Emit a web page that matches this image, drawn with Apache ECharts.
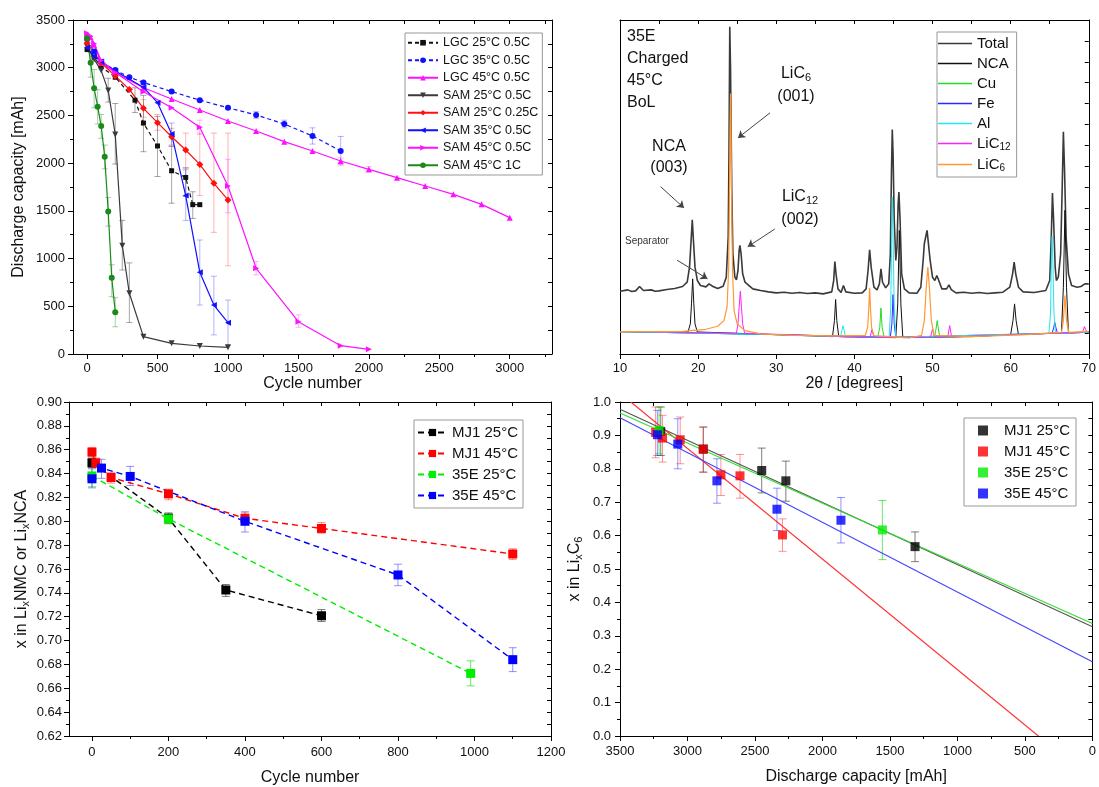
<!DOCTYPE html>
<html><head><meta charset="utf-8">
<script src="https://cdn.jsdelivr.net/npm/echarts@6/dist/echarts.min.js"></script>
<style>html,body{margin:0;padding:0;background:#fff}#c{width:1099px;height:787px}</style>
</head><body><div id="c"></div>
<script>
// ---------- Panel 1: discharge capacity vs cycle number ----------
const p1XTicks = [0, 500, 1000, 1500, 2000, 2500, 3000];
const p1XMinor = [250, 750, 1250, 1750, 2250, 2750, 3250];
const p1Names = ['LGC 25\u00b0C 0.5C','LGC 35\u00b0C 0.5C','LGC 45\u00b0C 0.5C','SAM 25\u00b0C 0.5C','SAM 25\u00b0C 0.25C','SAM 35\u00b0C 0.5C','SAM 45\u00b0C 0.5C','SAM 45\u00b0C 1C'];
const p1_LGC25 = [[0,3190],[50,3110],[100,3010],[200,2900],[340,2660],[400,2420],[500,2180],[600,1920],[700,1850],[750,1565],[800,1565]];
const p1_LGC35 = [[0,3300],[50,3170],[100,3060],[200,2975],[300,2900],[400,2845],[600,2750],[800,2660],[1000,2580],[1200,2505],[1400,2410],[1600,2285],[1800,2128]];
const p1_LGC45 = [[0,3350],[25,3320],[50,3240],[100,3050],[200,2950],[400,2790],[600,2672],[800,2557],[1000,2442],[1200,2337],[1400,2225],[1600,2127],[1800,2022],[2000,1935],[2200,1848],[2400,1760],[2600,1673],[2800,1568],[3000,1429]];
const p1_SAM25a = [[0,3220],[50,3090],[100,2970],[150,2760],[200,2300],[250,1135],[300,636],[400,182],[600,112],[800,84],[1000,70]];
const p1_SAM25b = [[0,3260],[100,3052],[200,2913],[300,2773],[400,2574],[500,2424],[600,2277],[700,2138],[800,1987],[900,1788],[1000,1614]];
const p1_SAM35 = [[0,3210],[50,3120],[100,3065],[200,2965],[400,2795],[500,2634],[600,2305],[700,1660],[800,856],[900,513],[1000,328]];
const p1_SAM45a = [[0,3360],[25,3330],[50,3250],[100,3075],[200,2950],[400,2749],[600,2581],[800,2375],[1000,1760],[1200,898],[1500,339],[1800,87],[2000,49]];
const p1_SAM45b = [[0,3310],[25,3053],[50,2784],[75,2592],[100,2389],[125,2068],[150,1492],[175,800],[200,437]];
const p1e_LGC25 = [[340,2530,2790],[400,2120,2710],[500,1860,2490],[600,1580,2175],[700,1650,1950],[750,1420,1700]];
const p1e_LGC35 = [[1200,2470,2540],[1400,2370,2450],[1600,2200,2370],[1800,1980,2280]];
const p1e_LGC45 = [[1800,1990,2055],[2000,1905,1965]];
const p1e_SAM25a = [[150,2640,2890],[200,1990,2625],[250,880,1400],[300,330,955]];
const p1e_SAM25b = [[400,2480,2665],[500,2345,2510],[600,2180,2365],[700,1950,2315],[800,1660,2315],[900,1275,2315],[1000,925,2315]];
const p1e_SAM35 = [[600,2190,2420],[700,1400,1930],[800,513,1195],[900,200,815],[1000,90,565]];
const p1e_SAM45a = [[800,2300,2450],[1000,1480,2040],[1200,830,970],[1500,280,410]];
const p1e_SAM45b = [[25,2900,3190],[50,2580,2980],[75,2410,2770],[100,2260,2510],[125,1940,2190],[150,1340,1640],[175,600,935],[200,285,590]];

// ---------- Panel 2: XRD pattern ----------
const p2Names = ['Total','NCA','Cu','Fe','Al','LiC12','LiC6'];
const p2_Total = [[10,18.8],[11,19.2],[11.5,18.7],[12,18.9],[12.5,20.2],[13,19],[14,19.2],[14.5,18.8],[15,18.9],[16,19.3],[17,19.6],[18,20.2],[18.6,21.5],[18.9,26],[19.1,34],[19.25,40.2],[19.4,34],[19.6,26],[19.9,22],[20.3,20.5],[21,20.1],[21.4,21],[21.6,21.3],[21.9,20.2],[22.5,19.6],[23.2,20.3],[23.6,23],[23.85,35],[23.95,60],[24.05,98],[24.15,85],[24.3,50],[24.45,30],[24.7,23],[24.9,22.2],[25.1,25],[25.25,31],[25.35,32.5],[25.5,30],[25.7,24],[26,21.5],[27,19.5],[28,19],[29,18.6],[30,18.3],[31,18.5],[32,18.2],[33,18.4],[34,18.1],[35,18.3],[36,18.0],[37.1,18.6],[37.35,22],[37.5,27.7],[37.65,24],[37.9,19.5],[38.3,18.4],[38.6,20.5],[38.9,18.6],[40,18.2],[41,18.3],[41.5,19.5],[41.75,25],[41.95,31.2],[42.15,26],[42.5,20],[42.9,19.2],[43.2,21],[43.4,25.5],[43.6,21.5],[44.0,19.8],[44.4,21],[44.6,30],[44.75,55],[44.85,67.2],[44.95,60],[45.1,40],[45.3,28],[45.45,32],[45.6,45],[45.7,48.5],[45.85,40],[46.05,24],[46.4,19.5],[47,18.3],[48,18.2],[48.5,20],[48.8,28],[48.95,33],[49.1,33],[49.3,37],[49.45,36.5],[49.7,28],[50.0,23],[50.3,22],[50.55,23.5],[50.8,22],[51.2,19.5],[51.8,19.5],[52.1,20.7],[52.4,19.3],[53,18.3],[54,18.5],[55,18.2],[56,18.4],[57,18.1],[58,18.3],[59,18.5],[59.9,20],[60.25,24],[60.45,27.5],[60.65,24],[61,20],[61.6,18.6],[63,18.4],[64.5,19],[65.0,22],[65.2,35],[65.35,48.2],[65.5,40],[65.7,26],[65.85,22],[66.1,23],[66.4,30],[66.6,50],[66.75,66.5],[66.9,55],[67.1,35],[67.4,24],[67.8,20.5],[68.5,20],[69,20.2],[69.5,21],[70,21]];
const p2_NCA = [[10,6.7],[18.7,6.6],[19.0,9],[19.15,15],[19.3,22.5],[19.45,15],[19.6,9],[19.9,6.6],[30,5.8],[37.2,5.2],[37.45,10],[37.6,16.3],[37.75,10],[38.0,5.2],[39.2,5.1],[39.4,5.6],[39.6,5.1],[45.3,4.9],[45.55,15],[45.75,37],[45.95,15],[46.2,4.9],[55,5.2],[60.0,5.8],[60.3,10],[60.5,15],[60.7,10],[61.0,5.8],[66.5,6.3],[66.75,20],[66.95,43],[67.15,20],[67.4,6.3],[70,6.5]];
const p2_Cu = [[10,6.7],[30,5.8],[43.0,5.1],[43.25,8],[43.4,13.8],[43.55,8],[43.8,5.1],[50.25,5],[50.45,7.5],[50.6,10],[50.75,7.5],[50.95,5],[62,6],[70,6.5]];
const p2_Fe = [[10,6.7],[30,5.8],[44.6,5],[44.8,9],[44.95,17.8],[45.1,9],[45.3,5],[65.3,6.2],[65.5,7.8],[65.65,9.5],[65.8,7.8],[66.0,6.2],[70,6.5]];
const p2_Al = [[10,6.7],[30,5.8],[38.25,5.2],[38.4,7],[38.55,8.5],[38.7,7],[38.85,5.2],[44.45,5],[44.65,14],[44.78,35],[44.85,47],[44.95,35],[45.1,14],[45.3,5],[64.9,6.2],[65.1,12],[65.22,28],[65.3,35.2],[65.4,28],[65.55,12],[65.75,6.2],[70,6.5]];
const p2_LiC12 = [[10,6.7],[12.3,6.7],[12.5,7.1],[12.7,6.7],[24.9,6.2],[25.1,9],[25.25,14],[25.4,18.8],[25.55,14],[25.7,9],[25.95,6.2],[42.0,5],[42.25,7.3],[42.5,5],[49.75,5],[50.0,7.5],[50.25,5],[51.95,5.1],[52.2,8.5],[52.45,5.1],[69.2,6.5],[69.45,8.2],[69.7,6.8],[70,6.7]];
const p2_LiC6 = [[10,6.7],[18,6.8],[21,7.4],[22.5,8.3],[23.3,10],[23.7,14],[23.9,25],[24.0,45],[24.1,70],[24.15,78],[24.2,70],[24.3,45],[24.4,25],[24.6,13],[25.0,9],[26,7],[28,6],[32,5.6],[38,5.4],[41.4,5.6],[41.7,8],[41.85,14],[41.95,19.8],[42.05,14],[42.2,8],[42.5,5.5],[47,4.8],[48.6,5.6],[48.95,10],[49.2,20],[49.4,26],[49.6,20],[49.85,10],[50.2,5.6],[55,5.2],[62,5.8],[66.5,6.5],[66.75,10],[66.95,17.5],[67.15,10],[67.45,6.5],[70,6.8]];
const p2Arrows = [[[15.2,50.1],[18.2,43.7]],[[29.2,72.2],[25.1,64.7]],[[29.8,37.4],[26.35,32.1]],[[17.3,28.1],[21.2,22.5]]];

// ---------- Panel 3: x in LixNMC / LixNCA vs cycle ----------
const p3XTicks = [0, 200, 400, 600, 800, 1000, 1200];
const p3XMinor = [100, 300, 500, 700, 900, 1100];
const p3Names = ['MJ1 25\u00b0C','MJ1 45\u00b0C','35E 25\u00b0C','35E 45\u00b0C'];
const p3_MJ1_25 = [[0,0.849],[200,0.8026],[350,0.7424],[600,0.7208]];
const p3_MJ1_45 = [[0,0.858],[10,0.849],[50,0.8367],[200,0.823],[400,0.8025],[600,0.794],[1100,0.7726]];
const p3_35E_25 = [[0,0.838],[200,0.802],[990,0.6725]];
const p3_35E_45 = [[0,0.8356],[25,0.8446],[100,0.8376],[400,0.80],[800,0.755],[1100,0.684]];
const p3e_MJ1_25 = [[0,0.845,0.853],[200,0.798,0.807],[350,0.737,0.747],[600,0.716,0.726]];
const p3e_MJ1_45 = [[0,0.854,0.862],[10,0.845,0.853],[50,0.832,0.841],[200,0.818,0.827],[400,0.798,0.807],[600,0.790,0.799],[1100,0.768,0.777]];
const p3e_35E_25 = [[0,0.829,0.846],[200,0.798,0.806],[990,0.662,0.683]];
const p3e_35E_45 = [[0,0.828,0.844],[25,0.836,0.852],[100,0.830,0.846],[400,0.791,0.808],[800,0.746,0.764],[1100,0.674,0.694]];

// ---------- Panel 4: x in LixC6 vs discharge capacity ----------
const p4_MJ1_25 = [[3198,0.912],[2883,0.859],[2450,0.795],[2271,0.764],[1314,0.567]];
const p4_MJ1_45 = [[3236,0.909],[3185,0.892],[3054,0.887],[2883,0.859],[2752,0.782],[2611,0.779],[2296,0.602]];
const p4_35E_25 = [[3211,0.915],[1556,0.617]];
const p4_35E_45 = [[3223,0.902],[3072,0.874],[2782,0.764],[2337,0.679],[1863,0.646]];
const p4e_MJ1_25 = [[3198,0.840,0.985],[2883,0.790,0.925],[2450,0.728,0.862],[2271,0.703,0.823],[1314,0.522,0.611]];
const p4e_MJ1_45 = [[3236,0.833,0.985],[3185,0.820,0.960],[3054,0.815,0.955],[2883,0.790,0.925],[2752,0.720,0.843],[2611,0.712,0.843],[2296,0.553,0.650]];
const p4e_35E_25 = [[3211,0.845,0.985],[1556,0.528,0.705]];
const p4e_35E_45 = [[3223,0.840,0.975],[3072,0.800,0.950],[2782,0.697,0.830],[2337,0.615,0.742],[1863,0.578,0.714]];
const p4fit_MJ1_25 = [[3500,0.978],[0,0.327]];
const p4fit_MJ1_45 = [[3420,1.0],[400,0.0]];
const p4fit_35E_25 = [[3500,0.967],[0,0.337]];
const p4fit_35E_45 = [[3500,0.953],[0,0.222]];

// ================= build =================
const FONT = 'Liberation Sans, Arial, sans-serif';
const AX = '#000';
const plain = v => String(v);

function errSeries(data, color, xi, yi, cap){
  return { type:'custom', name:'err', xAxisIndex:xi, yAxisIndex:yi, z:1, silent:true,
    encode:{x:0, y:[1,2]}, data:data,
    renderItem:function(params, api){
      const x=api.value(0), lo=api.value(1), hi=api.value(2);
      const a=api.coord([x,lo]), b=api.coord([x,hi]);
      const st={stroke:color, lineWidth:1};
      return {type:'group', children:[
        {type:'line', shape:{x1:a[0],y1:a[1],x2:b[0],y2:b[1]}, style:st},
        {type:'line', shape:{x1:a[0]-cap,y1:a[1],x2:a[0]+cap,y2:a[1]}, style:st},
        {type:'line', shape:{x1:b[0]-cap,y1:b[1],x2:b[0]+cap,y2:b[1]}, style:st}]};
    }};
}
function lineS(name, data, color, dash, symbol, rot, size, xi, yi, w){
  return { type:'line', name:name, data:data, xAxisIndex:xi, yAxisIndex:yi, z:3,
    symbol:symbol, symbolSize:size, symbolRotate:rot, showSymbol:true,
    itemStyle:{color:color}, lineStyle:{color:color, width:w||1.2, type:dash?[4,3]:'solid'} };
}
function tickStyle(len, inside, custom){
  const t={show:true, length:len, inside:!!inside, lineStyle:{color:AX, width:1}};
  if(custom) t.customValues=custom;
  return t;
}
const lblStyle = {fontSize:13, color:'#111', fontFamily:FONT};
const nameStyle = {fontSize:16, color:'#111', fontFamily:FONT};
function baseAxis(o){ return Object.assign({type:'value', splitLine:{show:false}, axisLine:{show:true, onZero:false, lineStyle:{color:AX,width:1}}}, o); }

const xAxes = [
  // panel 1
  baseAxis({gridIndex:0, position:'bottom', min:-100, max:3300, axisTick:tickStyle(5,false,p1XTicks), axisLabel:Object.assign({customValues:p1XTicks, margin:8, formatter:plain}, lblStyle), name:'Cycle number', nameLocation:'middle', nameGap:21, nameTextStyle:nameStyle}),
  baseAxis({gridIndex:0, position:'bottom', min:-100, max:3300, axisLine:{show:false}, axisTick:tickStyle(3,false,p1XMinor), axisLabel:{show:false}}),
  baseAxis({gridIndex:0, position:'top', min:-100, max:3300, axisTick:tickStyle(4,true,p1XTicks.concat(p1XMinor)), axisLabel:{show:false}}),
  // panel 2
  baseAxis({gridIndex:1, position:'bottom', min:10, max:70, interval:10, axisTick:tickStyle(5,false), minorTick:{show:true, splitNumber:2, length:3, lineStyle:{color:AX}}, axisLabel:Object.assign({margin:8, formatter:plain}, lblStyle), name:'2\u03b8 / [degrees]', nameLocation:'middle', nameGap:21, nameTextStyle:nameStyle}),
  baseAxis({gridIndex:1, position:'top', min:10, max:70, interval:5, axisTick:tickStyle(4,true), axisLabel:{show:false}}),
  // panel 3
  baseAxis({gridIndex:2, position:'bottom', min:-60, max:1200, axisTick:tickStyle(5,false,p3XTicks), axisLabel:Object.assign({customValues:p3XTicks, margin:10, formatter:plain}, lblStyle), name:'Cycle number', nameLocation:'middle', nameGap:34, nameTextStyle:nameStyle}),
  baseAxis({gridIndex:2, position:'bottom', min:-60, max:1200, axisLine:{show:false}, axisTick:tickStyle(3,false,p3XMinor), axisLabel:{show:false}}),
  baseAxis({gridIndex:2, position:'top', min:-60, max:1200, axisTick:tickStyle(4,true,p3XTicks.concat(p3XMinor)), axisLabel:{show:false}}),
  // panel 4
  baseAxis({gridIndex:3, position:'bottom', min:0, max:3500, interval:500, inverse:true, axisTick:tickStyle(5,false), minorTick:{show:true, splitNumber:2, length:3, lineStyle:{color:AX}}, axisLabel:Object.assign({margin:9, formatter:plain}, lblStyle), name:'Discharge capacity [mAh]', nameLocation:'middle', nameGap:33, nameTextStyle:nameStyle}),
  baseAxis({gridIndex:3, position:'top', min:0, max:3500, interval:250, inverse:true, axisTick:tickStyle(4,true), axisLabel:{show:false}})
];
const subRich = {n:{fontSize:16, fontFamily:FONT, color:'#111'}, s:{fontSize:11, fontFamily:FONT, color:'#111', padding:[8,0,0,0]}};
const yAxes = [
  baseAxis({gridIndex:0, position:'left', min:0, max:3500, interval:500, axisTick:tickStyle(5,false), minorTick:{show:true, splitNumber:2, length:3, lineStyle:{color:AX}}, axisLabel:Object.assign({margin:8, formatter:plain}, lblStyle), name:'Discharge capacity [mAh]', nameLocation:'middle', nameGap:46, nameTextStyle:nameStyle}),
  baseAxis({gridIndex:0, position:'right', min:0, max:3500, interval:250, axisTick:tickStyle(4,true), axisLabel:{show:false}}),
  baseAxis({gridIndex:1, position:'left', min:0, max:100, axisTick:{show:false}, axisLabel:{show:false}}),
  baseAxis({gridIndex:1, position:'right', min:0, max:100, interval:6.25, axisTick:tickStyle(4,true), axisLabel:{show:false}}),
  baseAxis({gridIndex:2, position:'left', min:0.62, max:0.90, interval:0.02, axisTick:tickStyle(5,false), minorTick:{show:true, splitNumber:2, length:3, lineStyle:{color:AX}}, axisLabel:Object.assign({margin:7, formatter:v=>v.toFixed(2)}, lblStyle), name:'x in Li{s|x}NMC or Li{s|x}NCA', nameLocation:'middle', nameGap:38, nameTextStyle:{fontSize:16, fontFamily:FONT, color:'#111', rich:subRich}}),
  baseAxis({gridIndex:2, position:'right', min:0.62, max:0.90, interval:0.01, axisTick:tickStyle(4,true), axisLabel:{show:false}}),
  baseAxis({gridIndex:3, position:'left', min:0, max:1, interval:0.1, axisTick:tickStyle(5,false), minorTick:{show:true, splitNumber:2, length:3, lineStyle:{color:AX}}, axisLabel:Object.assign({margin:9, formatter:v=>v.toFixed(1)}, lblStyle), name:'x in Li{s|x}C{s|6}', nameLocation:'middle', nameGap:36, nameTextStyle:{fontSize:16, fontFamily:FONT, color:'#111', rich:subRich}}),
  baseAxis({gridIndex:3, position:'right', min:0, max:1, interval:0.05, axisTick:tickStyle(4,true), axisLabel:{show:false}})
];

const series = [];
// panel 1
const p1Colors = ['#111111','#1010ff','#ff10ff','#3a3a3a','#ff1010','#1010ff','#ff10ff','#1a8a1a'];
const p1ErrColors = ['rgba(60,60,60,0.45)','rgba(40,40,255,0.35)','rgba(255,40,255,0.35)','rgba(60,60,60,0.45)','rgba(255,40,40,0.35)','rgba(40,40,255,0.35)','rgba(255,40,255,0.35)','rgba(30,140,30,0.4)'];
const p1Data = [p1_LGC25,p1_LGC35,p1_LGC45,p1_SAM25a,p1_SAM25b,p1_SAM35,p1_SAM45a,p1_SAM45b];
const p1Err = [p1e_LGC25,p1e_LGC35,p1e_LGC45,p1e_SAM25a,p1e_SAM25b,p1e_SAM35,p1e_SAM45a,p1e_SAM45b];
const p1Sym = [['rect',0,5],['circle',0,6],['triangle',0,6],['triangle',180,6],['diamond',0,7],['triangle',90,6],['triangle',-90,6],['circle',0,6]];
const p1Dash = [true,true,false,false,false,false,false,false];
for(let i=0;i<8;i++){
  series.push(errSeries(p1Err[i], p1ErrColors[i], 0, 0, 3));
  series.push(lineS(p1Names[i], p1Data[i], p1Colors[i], p1Dash[i], p1Sym[i][0], p1Sym[i][1], p1Sym[i][2], 0, 0, 1.2));
}
// panel 2
const p2Data = [p2_Total,p2_NCA,p2_Cu,p2_Fe,p2_Al,p2_LiC12,p2_LiC6];
const p2Colors = ['#3a3a3a','#111111','#22dd22','#2b2bff','#22e6f0','#ff22ff','#ff9933'];
const p2Widths = [1.6,1,1,1,1,1,1.2];
for(let i=0;i<7;i++){
  const s = {type:'line', name:p2Names[i], data:p2Data[i], xAxisIndex:3, yAxisIndex:2, symbol:'none', showSymbol:false, z:2,
    lineStyle:{color:p2Colors[i], width:p2Widths[i]}, itemStyle:{color:p2Colors[i]}};
  if(i===0){
    s.markLine = {silent:true, symbol:['none','arrow'], symbolSize:7, label:{show:false},
      lineStyle:{color:'#444', width:1, type:'solid'},
      data: p2Arrows.map(a=>[{coord:a[0]},{coord:a[1]}])};
  }
  series.push(s);
}
// panel 3
const p3Colors = ['#000000','#ff0000','#00ee00','#0000ff'];
const p3Err = ['rgba(70,70,70,0.7)','rgba(255,40,40,0.5)','rgba(0,220,0,0.6)','rgba(40,40,255,0.5)'];
const p3Data = [p3_MJ1_25,p3_MJ1_45,p3_35E_25,p3_35E_45];
const p3ErrData = [p3e_MJ1_25,p3e_MJ1_45,p3e_35E_25,p3e_35E_45];
for(let i=0;i<4;i++){
  series.push(errSeries(p3ErrData[i], p3Err[i], 5, 4, 4));
  series.push({type:'line', name:p3Names[i], data:p3Data[i], xAxisIndex:5, yAxisIndex:4, z:3, symbol:'rect', symbolSize:9,
    itemStyle:{color:p3Colors[i]}, lineStyle:{color:p3Colors[i], width:1.4, type:[6,4]}});
}
// panel 4
const p4Names = p3Names.map(n=>n+'\u200b');
const p4Data = [p4_MJ1_25,p4_MJ1_45,p4_35E_25,p4_35E_45];
const p4ErrData = [p4e_MJ1_25,p4e_MJ1_45,p4e_35E_25,p4e_35E_45];
const p4Fit = [p4fit_MJ1_25,p4fit_MJ1_45,p4fit_35E_25,p4fit_35E_45];
const p4FitColors = ['#555555','#ff3333','#33dd33','#4444ff'];
for(let i=0;i<4;i++){
  series.push({type:'line', name:'fit'+i, data:p4Fit[i], xAxisIndex:8, yAxisIndex:6, z:2, symbol:'none', showSymbol:false,
    lineStyle:{color:p4FitColors[i], width:1.1}});
}
for(let i=0;i<4;i++){
  series.push(errSeries(p4ErrData[i], p3Err[i], 8, 6, 4));
  series.push({type:'scatter', name:p4Names[i], data:p4Data[i], xAxisIndex:8, yAxisIndex:6, z:3, symbol:'rect', symbolSize:9,
    itemStyle:{color:p3Colors[i]}});
}

const legRich = {n:{fontSize:15, fontFamily:FONT, color:'#111'}, s:{fontSize:10, fontFamily:FONT, color:'#111', padding:[7,0,0,0]}};
const legends = [
  {data:p1Names, left:405, top:33, orient:'vertical', itemGap:4, itemWidth:30, itemHeight:7, padding:[3,4,3,2],
   borderColor:'#999', borderWidth:1, textStyle:{fontSize:12.5, fontFamily:FONT, color:'#111', lineHeight:13.5}, selectedMode:false},
  {data:p2Names.map(n=>({name:n, icon:'rect', itemStyle:{color:p2Colors[p2Names.indexOf(n)]}})), left:937, top:32, orient:'vertical', itemGap:5, itemWidth:34, itemHeight:1.6, padding:[4,6,4,1],
   borderColor:'#999', borderWidth:1, selectedMode:false,
   formatter:function(n){ if(n==='LiC12') return '{n|LiC}{s|12}'; if(n==='LiC6') return '{n|LiC}{s|6}'; return '{n|'+n+'}'; },
   textStyle:{fontSize:15, fontFamily:FONT, color:'#111', rich:legRich}},
  {data:p3Names, left:414, top:420, orient:'vertical', itemGap:4, itemWidth:29, itemHeight:9, padding:[4,5,4,3],
   borderColor:'#999', borderWidth:1, selectedMode:false, textStyle:{fontSize:15, fontFamily:FONT, color:'#111', lineHeight:17}},
  {data:p4Names, left:964, top:418, orient:'vertical', itemGap:4, itemWidth:10, itemHeight:10, padding:[4,6,4,14], icon:'rect',
   borderColor:'#999', borderWidth:1, selectedMode:false, textStyle:{fontSize:15, fontFamily:FONT, color:'#111', lineHeight:17, padding:[0,0,0,11]}}
];

const txt = (t, x, y, size, align, extra) => Object.assign({type:'text', z:10, style:{text:t, x:x, y:y, fill:'#111', font:size+'px '+FONT, textAlign:align||'left', textVerticalAlign:'middle'}}, extra||{});
const annRich = {n:{fontSize:16, fontFamily:FONT, fill:'#111'}, s:{fontSize:11, fontFamily:FONT, fill:'#111', padding:[8,0,0,0]}};
const graphics = [
  txt('35E', 627, 37, 16), txt('Charged', 627, 59, 16), txt('45\u00b0C', 627, 81, 16), txt('BoL', 627, 103, 16),
  txt('NCA', 669, 147, 16, 'center'), txt('(003)', 669, 168, 16, 'center'),
  {type:'text', z:10, style:{text:'{n|LiC}{s|6}', rich:annRich, x:796, y:74, textAlign:'center', textVerticalAlign:'middle'}},
  txt('(001)', 796, 97, 16, 'center'),
  {type:'text', z:10, style:{text:'{n|LiC}{s|12}', rich:annRich, x:800, y:197, textAlign:'center', textVerticalAlign:'middle'}},
  txt('(002)', 800, 220, 16, 'center'),
  {type:'text', z:10, style:{text:'Separator', x:625, y:241, fill:'#333', font:'10px '+FONT, textVerticalAlign:'middle'}}
];

const chart = echarts.init(document.getElementById('c'), null, {renderer:'canvas'});
chart.setOption({
  animation:false, backgroundColor:'#fff',
  textStyle:{fontFamily:FONT},
  grid:[{left:73, top:20, width:479, height:334},{left:620, top:20, width:477, height:334},{left:69, top:402, width:482, height:334},{left:620, top:402, width:477, height:334}],
  xAxis:xAxes, yAxis:yAxes, series:series, legend:legends, graphic:graphics
});
</script></body></html>
